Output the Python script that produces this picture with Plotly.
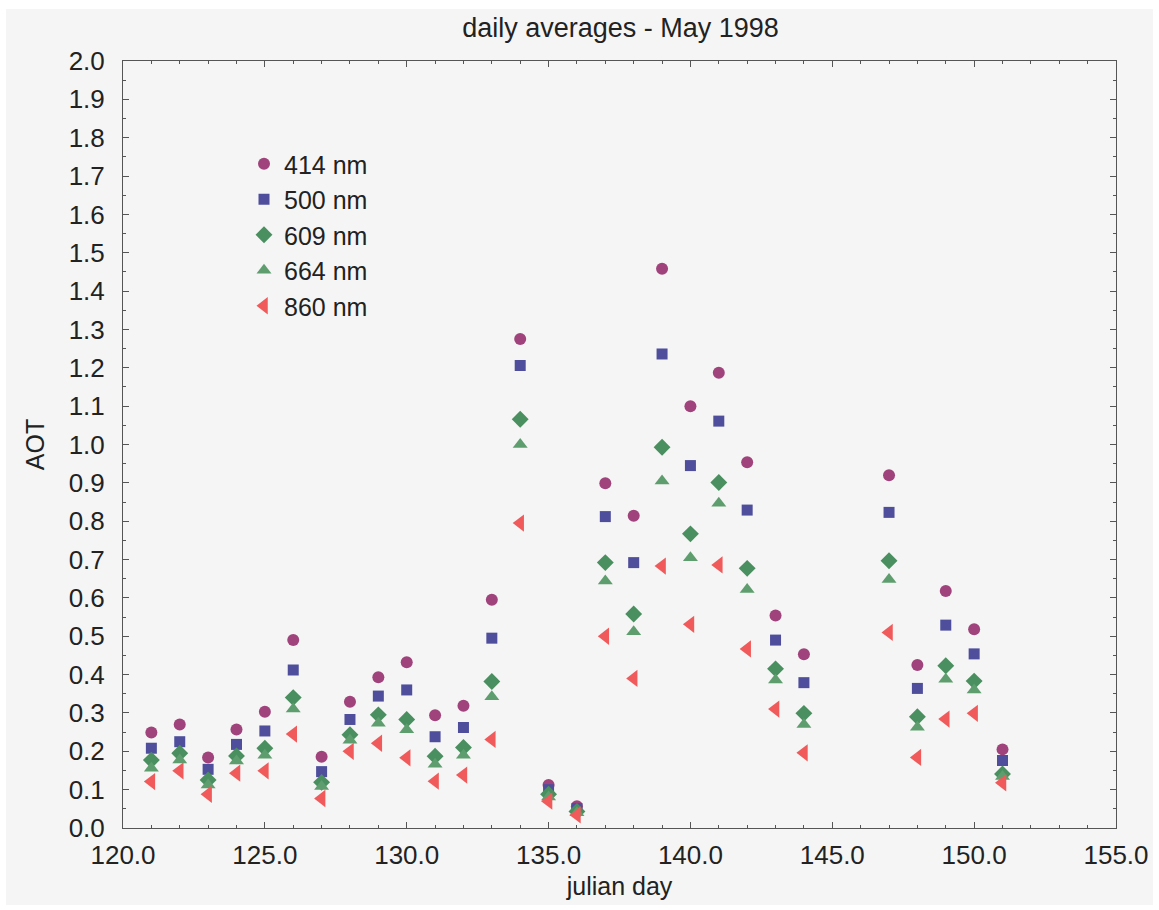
import plotly.graph_objects as go

days = [121, 122, 123, 124, 125, 126, 127, 128, 129, 130, 131, 132, 133, 134, 135, 136,
        137, 138, 139, 140, 141, 142, 143, 144, 147, 148, 149, 150, 151]

aot_414 = [0.249, 0.270, 0.184, 0.257, 0.303, 0.490, 0.186, 0.329, 0.393, 0.432, 0.294, 0.319,
           0.595, 1.275, 0.112, 0.057, 0.899, 0.814, 1.458, 1.100, 1.187, 0.954, 0.554, 0.453,
           0.920, 0.425, 0.618, 0.518, 0.205]
aot_500 = [0.208, 0.225, 0.153, 0.218, 0.253, 0.412, 0.147, 0.283, 0.344, 0.360, 0.238, 0.262,
           0.495, 1.206, 0.100, 0.051, 0.812, 0.692, 1.236, 0.945, 1.061, 0.829, 0.490, 0.379,
           0.823, 0.364, 0.529, 0.454, 0.176]
aot_609 = [0.177, 0.195, 0.125, 0.188, 0.208, 0.340, 0.119, 0.243, 0.295, 0.283, 0.187, 0.210,
           0.382, 1.066, 0.088, 0.043, 0.692, 0.558, 0.993, 0.767, 0.901, 0.677, 0.415, 0.299,
           0.697, 0.290, 0.423, 0.383, 0.141]
aot_664 = [0.156, 0.177, 0.112, 0.175, 0.190, 0.310, 0.108, 0.229, 0.273, 0.256, 0.166, 0.190,
           0.342, 1.000, 0.081, 0.040, 0.644, 0.512, 0.905, 0.705, 0.847, 0.622, 0.386, 0.270,
           0.648, 0.263, 0.388, 0.360, 0.134]
aot_860 = [0.121, 0.149, 0.088, 0.143, 0.149, 0.245, 0.077, 0.200, 0.221, 0.183, 0.122, 0.138,
           0.231, 0.795, 0.070, 0.034, 0.500, 0.390, 0.683, 0.531, 0.686, 0.467, 0.310, 0.196,
           0.510, 0.184, 0.284, 0.299, 0.118]

series_names = ["414 nm", "500 nm", "609 nm", "664 nm", "860 nm"]
series_values = [aot_414, aot_500, aot_609, aot_664, aot_860]
symbols = ["circle", "square", "diamond", "triangle-up", "triangle-left"]
colors = ["#a0437c", "#4e4e9c", "#4a8f5f", "#5e9e6e", "#f05a5a"]
sizes = [12, 11, 13, 13, 15]

FONT = "Liberation Sans, Arial, sans-serif"
GRAY_BG = "#f5f5f5"
AXIS_COLOR = "#555555"
TEXT_COLOR = "#222222"

fig = go.Figure()
for i, (name, vals) in enumerate(zip(series_names, series_values)):
    fig.add_trace(go.Scatter(
        x=days, y=vals, mode="markers", name=name, legendgroup=name,
        marker=dict(symbol=symbols[i], color=colors[i], size=sizes[i], line=dict(width=0)),
    ))

W, H = 1159, 910
L, R, T, B = 123, 43, 61, 82
pw, ph = W - L - R, H - T - B

def px_x(p):
    return (p - L) / pw

def px_y(p):
    return (H - B - p) / ph

fig.add_shape(type="rect", xref="paper", yref="paper",
              x0=px_x(6), x1=px_x(1153), y0=px_y(905), y1=px_y(9),
              fillcolor=GRAY_BG, line=dict(width=0), layer="below")

axis_common = dict(
    showgrid=False, zeroline=False, showline=True, linecolor=AXIS_COLOR, linewidth=1,
    mirror="ticks", ticks="inside", ticklen=6, tickcolor=AXIS_COLOR, tickwidth=1,
    tickfont=dict(family=FONT, size=26, color=TEXT_COLOR),
)

fig.update_xaxes(
    range=[120, 155], tick0=120, dtick=5, tickformat=".1f",
    minor=dict(ticks="inside", dtick=1, ticklen=3, tickcolor=AXIS_COLOR),
    title=dict(text="julian day", font=dict(family=FONT, size=25, color=TEXT_COLOR), standoff=8),
    ticklabelstandoff=4,
    **axis_common,
)
fig.update_yaxes(
    range=[0, 2.0], tick0=0, dtick=0.1, tickformat=".1f",
    minor=dict(ticks="inside", dtick=0.05, ticklen=3, tickcolor=AXIS_COLOR),
    title=dict(text="AOT", font=dict(family=FONT, size=25, color=TEXT_COLOR), standoff=16),
    ticklabelstandoff=12,
    **axis_common,
)

fig.update_layout(
    width=W, height=H,
    margin=dict(l=L, r=R, t=T, b=B, autoexpand=False),
    paper_bgcolor="white", plot_bgcolor=GRAY_BG,
    title=dict(text="daily averages - May 1998", x=(455 + 786) / 2 / W, xanchor="center",
               y=1 - 28 / H, yanchor="middle",
               font=dict(family=FONT, size=27, color=TEXT_COLOR)),
    showlegend=True,
    legend=dict(x=px_x(244), y=px_y(141), xanchor="left", yanchor="top",
                bgcolor="rgba(0,0,0,0)", borderwidth=0,
                traceorder="grouped", tracegroupgap=0,
                font=dict(family=FONT, size=25, color=TEXT_COLOR),
                itemwidth=30),
)

fig.write_html("out.html")
